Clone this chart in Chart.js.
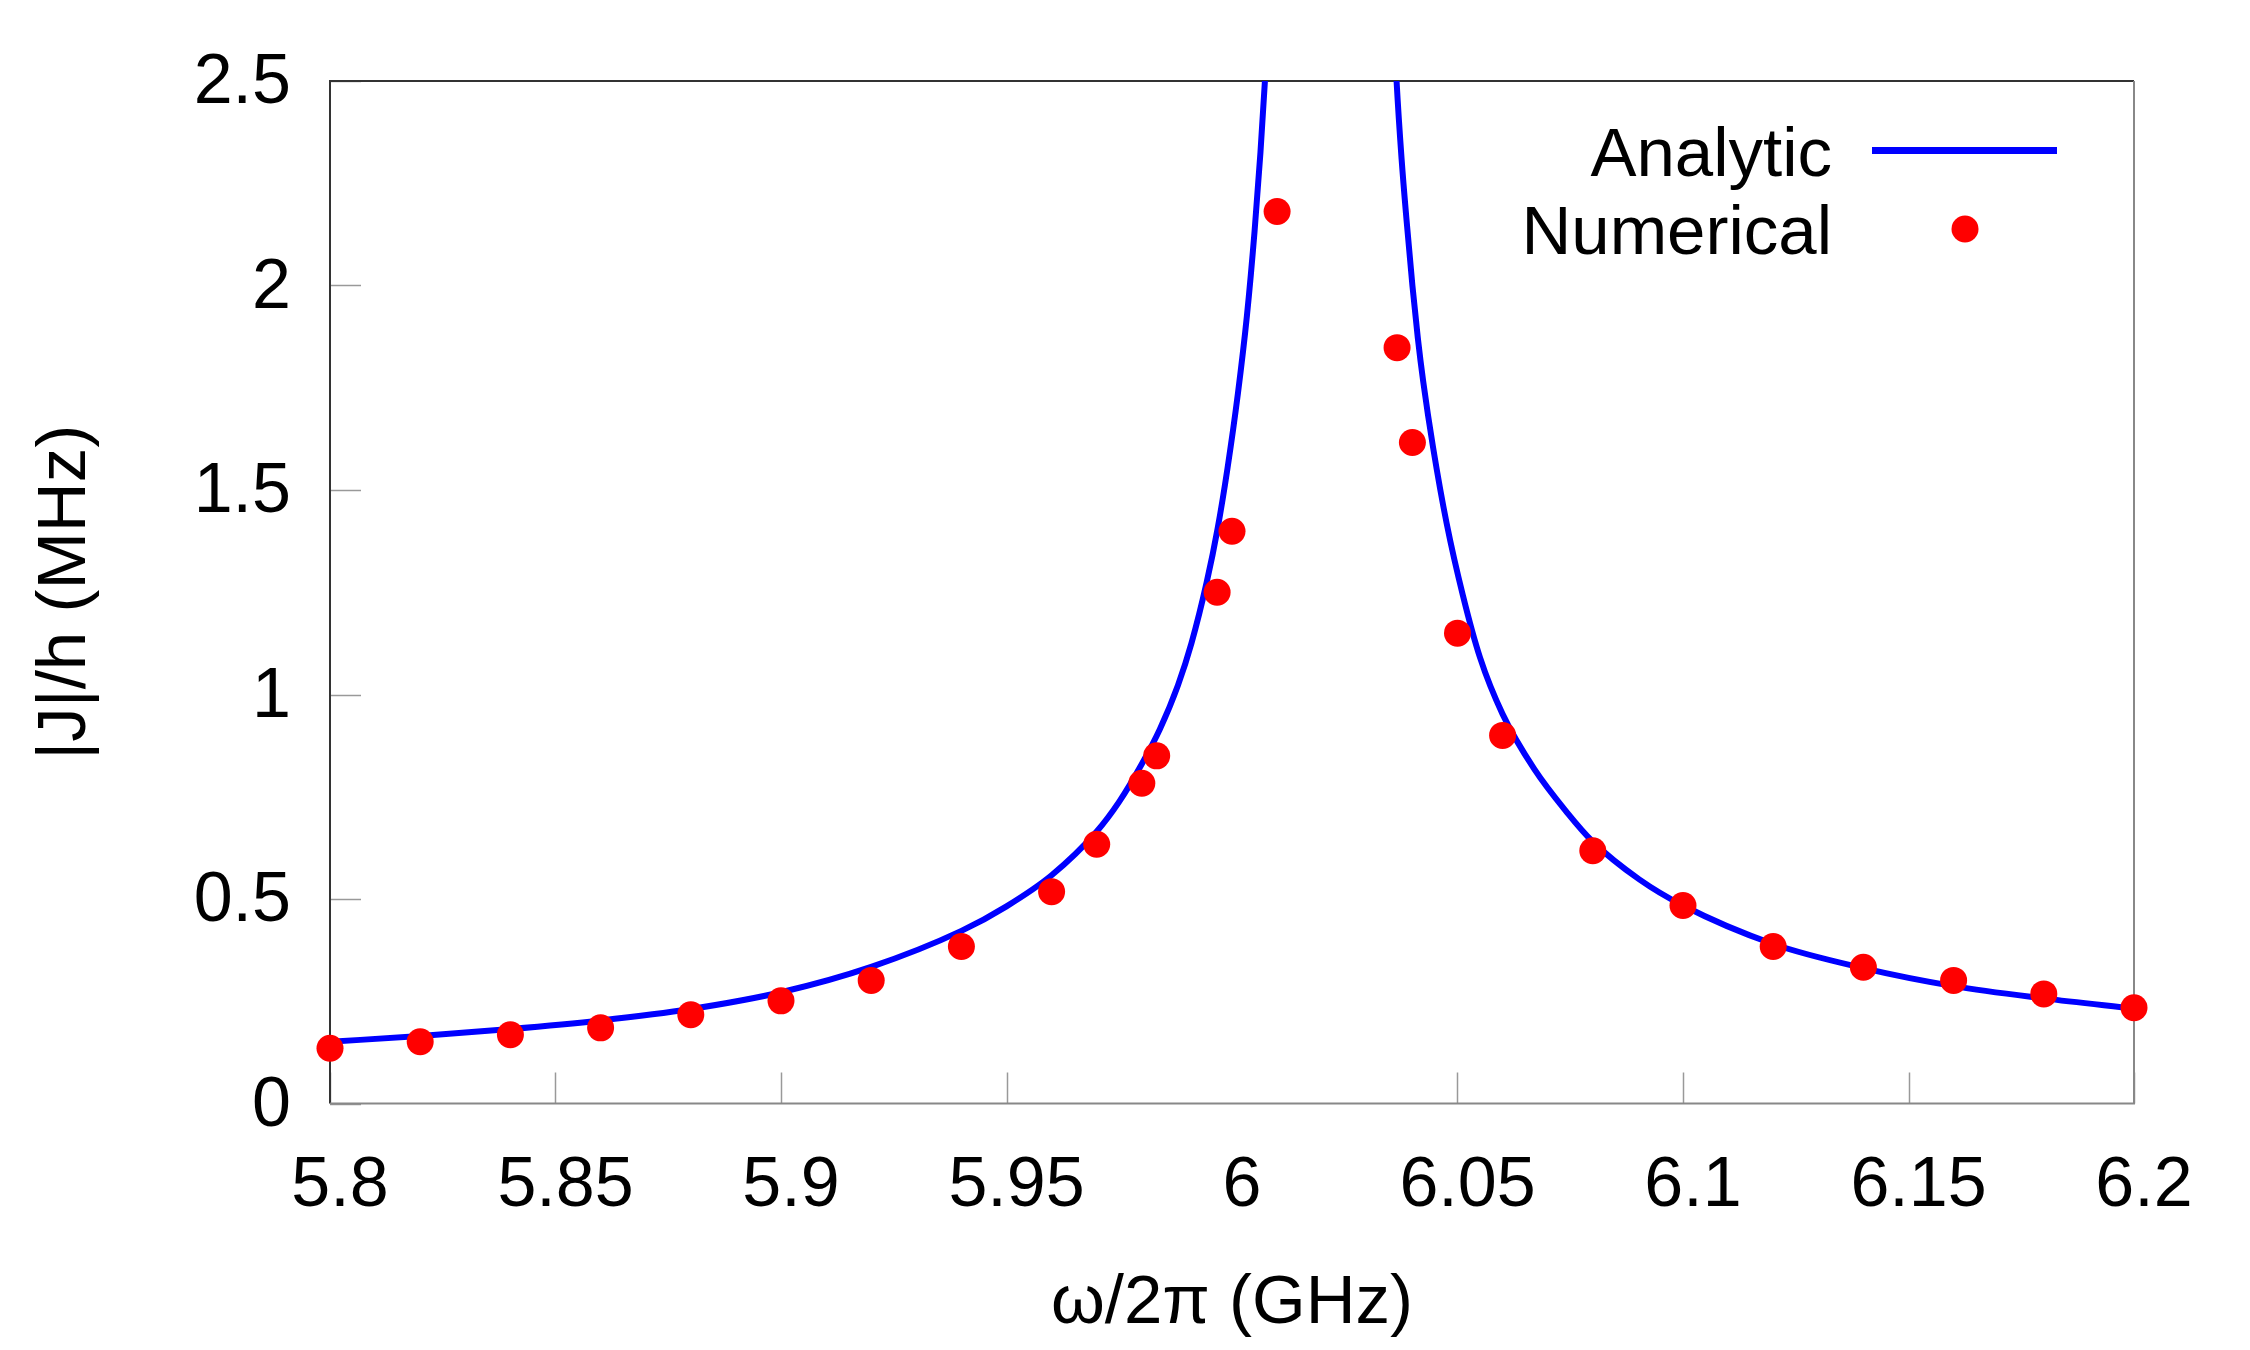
<!DOCTYPE html>
<html lang="en">
<head>
  <meta charset="UTF-8">
  <title>|J|/h vs frequency</title>
  <script src="https://cdn.jsdelivr.net/npm/chart.js"></script>
  <style>
    body {
      margin: 0;
      background: #ffffff;
    }
    #wrap {
      width: 2250px;
      height: 1350px;
    }
  </style>
</head>
<body>
  <div id="wrap">
    <canvas id="couplingChart" width="2250" height="1350"></canvas>
  </div>

  <script>
    // analytic curve (two branches around the resonance)
    const analyticLeftX = [5.80, 5.82, 5.84, 5.86, 5.88, 5.90, 5.92, 5.94, 5.95, 5.96, 5.97, 5.975, 5.98, 5.984, 5.988, 5.991,
      5.9944, 5.9968, 5.9990, 6.0013, 6.0033, 6.0050, 6.0063, 6.0073, 6.0082];
    const analyticLeftY = [0.151, 0.165, 0.182, 0.203, 0.231, 0.272, 0.334, 0.422, 0.482, 0.558, 0.665, 0.738, 0.830, 0.915, 1.022, 1.125,
      1.275, 1.405, 1.553, 1.735, 1.925, 2.132, 2.324, 2.500, 2.700];
    const analyticRightX = [6.0358, 6.0365, 6.0376, 6.0387, 6.0400, 6.0412, 6.0424, 6.0446, 6.0476, 6.0512, 6.0550, 6.0600,
      6.0670, 6.0744, 6.0800, 6.0903, 6.1000, 6.1200, 6.1400, 6.1600, 6.1800, 6.2000];
    const analyticRightY = [2.660, 2.498, 2.310, 2.160, 2.000, 1.872, 1.765, 1.603, 1.418, 1.242, 1.090, 0.952,
      0.818, 0.710, 0.640, 0.548, 0.484, 0.390, 0.331, 0.287, 0.257, 0.232];

    // numerical points
    const numericalX = [5.80, 5.82, 5.84, 5.86, 5.88, 5.90, 5.92, 5.94, 5.96, 5.97, 5.98, 5.9833, 5.9967, 6.00, 6.01,
      6.0366, 6.04, 6.05, 6.06, 6.08, 6.10, 6.12, 6.14, 6.16, 6.18, 6.20];
    const numericalY = [0.135, 0.151, 0.168, 0.185, 0.217, 0.251, 0.301, 0.384, 0.518, 0.634, 0.783, 0.850, 1.250, 1.399, 2.181,
      1.848, 1.616, 1.150, 0.900, 0.618, 0.484, 0.384, 0.333, 0.301, 0.268, 0.234];

    const xTicks = [5.8, 5.85, 5.9, 5.95, 6.0, 6.05, 6.1, 6.15, 6.2];
    const yTicks = [0, 0.5, 1, 1.5, 2, 2.5];

    const toPoints = (xs, ys) => xs.map((x, i) => ({ x: x, y: ys[i] }));
    // null between the branches breaks the line
    const analyticData = toPoints(analyticLeftX, analyticLeftY)
      .concat([{ x: 6.022, y: null }])
      .concat(toPoints(analyticRightX, analyticRightY));

    Chart.defaults.font.family = '"Liberation Sans", Arial, sans-serif';
    Chart.defaults.color = '#000000';

    // frame + inward ticks, like the original plot
    const framePlugin = {
      id: 'frame',
      beforeDatasetsDraw(chart) {
        const { ctx, chartArea: a, scales } = chart;
        ctx.save();
        ctx.strokeStyle = '#999999';
        ctx.lineWidth = 1.5;
        scales.x.ticks.forEach(t => {
          if (t.value === 6.0) return; // the 6 GHz tick is not drawn in the original
          const px = Math.round(scales.x.getPixelForValue(t.value)) + 0.5;
          ctx.beginPath();
          ctx.moveTo(px, a.bottom);
          ctx.lineTo(px, a.bottom - 31);
          ctx.stroke();
        });
        scales.y.ticks.forEach(t => {
          const py = Math.round(scales.y.getPixelForValue(t.value)) + 0.5;
          ctx.beginPath();
          ctx.moveTo(a.left, py);
          ctx.lineTo(a.left + 31, py);
          ctx.stroke();
        });

        ctx.lineWidth = 2;
        ctx.strokeStyle = '#333333';
        ctx.beginPath();
        ctx.moveTo(a.left, a.bottom);
        ctx.lineTo(a.left, a.top);
        ctx.lineTo(a.right, a.top);
        ctx.stroke();
        ctx.strokeStyle = '#888888';
        ctx.beginPath();
        ctx.moveTo(a.right, a.top);
        ctx.lineTo(a.right, a.bottom);
        ctx.lineTo(a.left, a.bottom);
        ctx.stroke();
        ctx.restore();
      }
    };

    // legend: text right aligned, sample on the right
    const legendPlugin = {
      id: 'sideLegend',
      afterDatasetsDraw(chart) {
        const { ctx, chartArea: a } = chart;
        const textRight = a.right - 302;
        ctx.save();
        ctx.font = '69px "Liberation Sans", Arial, sans-serif';
        ctx.fillStyle = '#000000';
        ctx.textAlign = 'right';
        ctx.textBaseline = 'middle';
        ctx.fillText(chart.data.datasets[1].label, textRight, a.top + 75.5);
        ctx.fillText(chart.data.datasets[0].label, textRight, a.top + 154);

        ctx.strokeStyle = '#0000ff';
        ctx.lineWidth = 7;
        ctx.beginPath();
        ctx.moveTo(a.right - 262, a.top + 69.5);
        ctx.lineTo(a.right - 77, a.top + 69.5);
        ctx.stroke();

        ctx.fillStyle = '#ff0000';
        ctx.beginPath();
        ctx.arc(a.right - 169, a.top + 148, 13.5, 0, Math.PI * 2);
        ctx.fill();
        ctx.restore();
      }
    };

    const ctx = document.getElementById('couplingChart').getContext('2d');
    new Chart(ctx, {
      type: 'scatter',
      data: {
        datasets: [{
          label: 'Numerical',
          data: toPoints(numericalX, numericalY),
          pointRadius: 13.5,
          pointBackgroundColor: '#ff0000',
          pointBorderWidth: 0,
          showLine: false,
          clip: false,
          order: 0
        }, {
          label: 'Analytic',
          data: analyticData,
          showLine: true,
          pointRadius: 0,
          borderColor: '#0000ff',
          borderWidth: 6,
          cubicInterpolationMode: 'monotone',
          spanGaps: false,
          clip: 0,
          order: 1
        }]
      },
      options: {
        responsive: false,
        animation: false,
        layout: {
          padding: { top: 77.5, right: 116, bottom: 0, left: 0 }
        },
        plugins: {
          legend: { display: false },
          tooltip: { enabled: false }
        },
        scales: {
          x: {
            type: 'linear',
            min: 5.8,
            max: 6.2,
            afterBuildTicks: (scale) => { scale.ticks = xTicks.map(v => ({ value: v })); },
            afterFit: (scale) => { scale.height = 246.5; },
            grid: { display: false, drawTicks: false },
            border: { display: false },
            ticks: {
              padding: 41.5,
              labelOffset: 10,
              font: { size: 70 },
              maxRotation: 0,
              autoSkip: false,
              callback: (v) => String(+Number(v).toFixed(2))
            },
            title: {
              display: true,
              text: 'ω/2π (GHz)',
              font: { size: 69 },
              padding: { top: 0, bottom: 5 }
            }
          },
          y: {
            type: 'linear',
            min: 0,
            max: 2.5,
            afterBuildTicks: (scale) => { scale.ticks = yTicks.map(v => ({ value: v })); },
            afterFit: (scale) => { scale.width = 330; },
            grid: { display: false, drawTicks: false },
            border: { display: false },
            ticks: {
              padding: 39,
              labelOffset: 3,
              font: { size: 70 },
              callback: (v) => String(+Number(v).toFixed(1))
            },
            title: {
              display: true,
              text: '|J|/h (MHz)',
              font: { size: 69 },
              padding: { top: 25, bottom: 0 }
            }
          }
        }
      },
      plugins: [framePlugin, legendPlugin]
    });
  </script>
</body>
</html>
